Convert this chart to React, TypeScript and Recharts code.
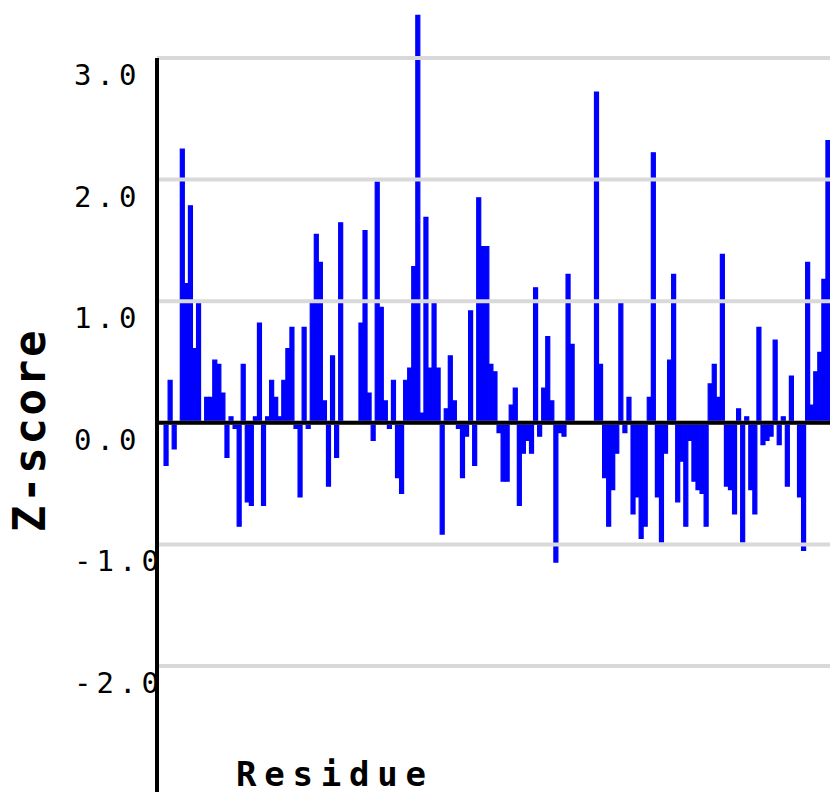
import React from "react";
import { BarChart, Bar, XAxis, YAxis, ReferenceLine } from "recharts";

// Z-score per residue, read left to right off the reference
const zScoresA = [0, -0.35, 0.35, -0.215, 0, 2.25, 1.145, 1.785, 0.61, 0.98, 0, 0.21, 0.21, 0.515, 0.48, 0.245, -0.285, 0.05, -0.045, -0.85];
const zScoresB = [0.48, -0.65, -0.68, 0.05, 0.82, -0.68, 0.05, 0.35, 0.21, 0.05, 0.35, 0.61, 0.785, -0.045, -0.61, 0.785, -0.045, 0.98, 1.55, 1.32, 0.18];
const zScoresC = [-0.52, 0.55, -0.285, 1.645, 0, 0, 0, 0, 0.82, 1.58, 0.245, -0.145, 1.98, 0.95, 0.18, -0.045, 0.35, -0.45, -0.58, 0.35];
const zScoresD = [0.45, 1.285, 3.35, 0.08, 1.69, 0.45, 0.98, 0.45, -0.915, 0.115, 0.55, 0.18, -0.045, -0.45, -0.11, 0.92, -0.35, 1.85, 1.45, 1.45, 0.48];
const zScoresE = [0.42, -0.08, -0.48, -0.48, 0.145, 0.285, -0.68, -0.25, -0.145, -0.25, 1.11, -0.11, 0.285, 0.71, 0.18, -1.145, -0.08, -0.11, 1.22, 0.645, 0, 0, 0, 0, 0];
const zScoresF = [2.72, 0.48, -0.45, -0.85, -0.55, -0.25, 0.98, -0.08, 0.21, -0.75, -0.61, -0.95, -0.85, 0.21, 2.22, -0.61];
const zScoresG = [-0.98, -0.25, 0.515, 1.22, -0.65, -0.315, -0.85, -0.145, -0.48, -0.55, -0.58, -0.85, 0.32, 0.48, 0.21, 1.385, -0.52, -0.55, -0.75, 0.115, -0.98];
const zScoresH = [0.05, -0.55, -0.75, 0.785, -0.18, -0.145, -0.11, 0.68, -0.18, 0.05, -0.52, 0.385, 0, -0.61, -1.05, 1.32, 0.145, 0.42, 0.58, 1.18, 2.32];

const zScores = [...zScoresA, ...zScoresB, ...zScoresC, ...zScoresD, ...zScoresE, ...zScoresF, ...zScoresG, ...zScoresH];
const residues = zScores.map((_, i) => i + 1);

const yTicks = [-2, -1, 0, 1, 2, 3];
const yDomain = [-3.036, 3.477];
const xLabel = "Residue";
const yLabel = "Z-score";

const data = residues.map((r, i) => ({ residue: r, z: zScores[i] }));

const FONT = "'DejaVu Sans Mono', monospace";

const YTick = (props: any) => {
  const { y, payload } = props;
  return (
    <text x={74} y={y + 27} fontFamily={FONT} fontSize={29} letterSpacing={5} fill="#000">
      {Number(payload.value).toFixed(1)}
    </text>
  );
};

export default function App() {
  return (
    <div style={{ position: "absolute", left: 0, top: 0, width: 830, height: 792, background: "#fff", overflow: "hidden" }}>
      <BarChart
        width={830}
        height={792}
        data={data}
        margin={{ top: 0, right: 0, bottom: 0, left: 0 }}
        barCategoryGap={0}
        barGap={0}
      >
        <XAxis dataKey="residue" type="category" hide padding={{ left: 3, right: 0 }} />
        <XAxis xAxisId="num" type="number" domain={[0, 1]} hide />
        <YAxis
          type="number"
          domain={yDomain}
          ticks={yTicks}
          width={157}
          axisLine={false}
          tickLine={false}
          tick={<YTick />}
          interval={0}
        />
        <Bar dataKey="z" fill="#0000ff" stroke="#0000ff" strokeWidth={1.2} isAnimationActive={false} />
        {yTicks.map((t) => (
          <ReferenceLine key={t} y={t} stroke="#d9d9d9" strokeWidth={4} />
        ))}
        <ReferenceLine y={0} stroke="#000" strokeWidth={4} />
        <ReferenceLine
          xAxisId="num"
          segment={[{ x: 0, y: yTicks[yTicks.length - 1] }, { x: 0, y: yDomain[0] }]}
          stroke="#000"
          strokeWidth={4}
          ifOverflow="visible"
        />
        <text x={236} y={786} fontFamily={FONT} fontWeight="bold" fontSize={34} letterSpacing={7.8} fill="#000">
          {xLabel}
        </text>
        <text
          transform="translate(45,430) rotate(-90)"
          textAnchor="middle"
          fontFamily={FONT}
          fontWeight="bold"
          fontSize={44}
          letterSpacing={2.7}
          fill="#000"
        >
          {yLabel}
        </text>
      </BarChart>
    </div>
  );
}
